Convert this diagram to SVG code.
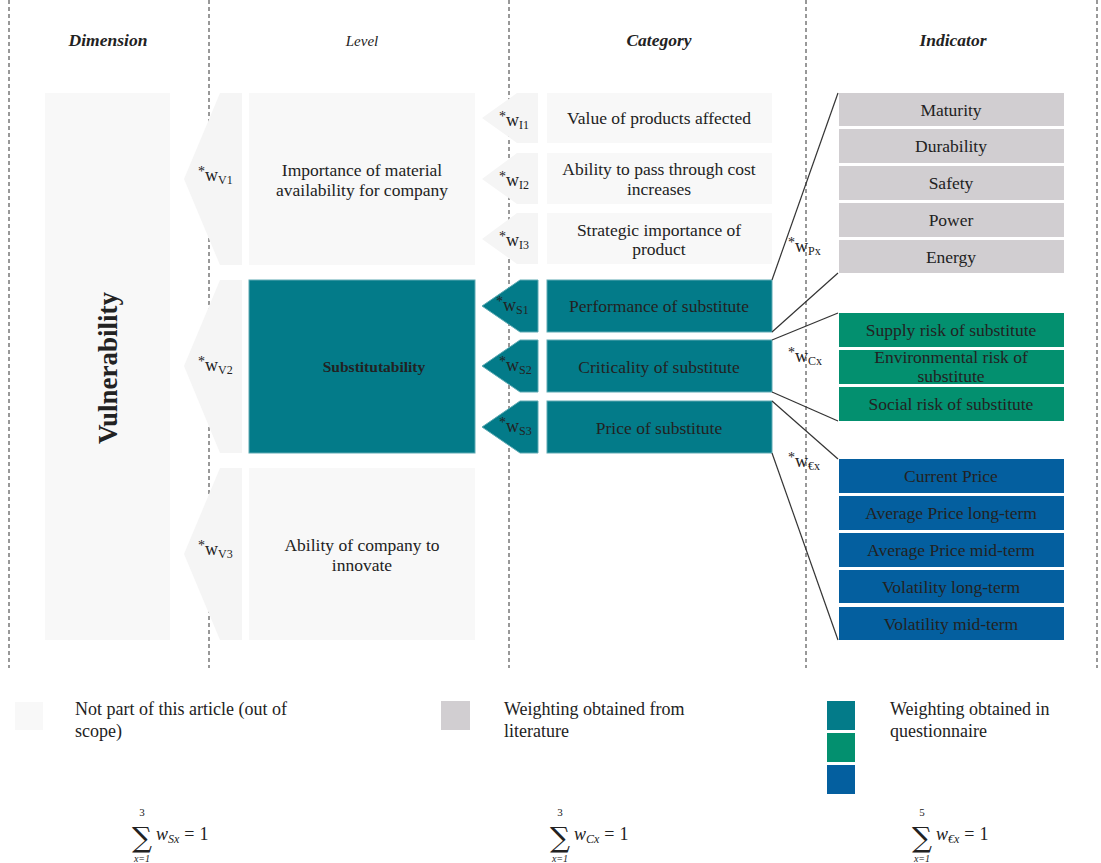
<svg xmlns="http://www.w3.org/2000/svg" width="1101" height="863" viewBox="0 0 1101 863">
<style>
text{font-family:"Liberation Serif",serif;fill:#222;}
.hd{font-size:17.5px;font-style:italic;font-weight:bold;text-anchor:middle;}
.t{font-size:17.5px;text-anchor:middle;}
.w{font-size:18px;}
.s{font-size:12px;}
.a{font-size:14px;}
.lg{font-size:18px;}
.dash{stroke:#333;stroke-width:1;stroke-dasharray:4,3;fill:none;}
.lt{fill:#f8f8f8;}
.ch{fill:#f5f5f5;}
.tl{fill:#037b89;stroke:#5eaab3;stroke-width:1;}
.gr{fill:#d1ced1;}
.gn{fill:#03906f;}
.bl{fill:#045f9f;}
.con{stroke:#333;stroke-width:1.2;fill:none;}
.sup{font-size:11px;text-anchor:middle;}
.sig{font-family:"DejaVu Serif",serif;font-size:28px;text-anchor:middle;}
.low{font-size:10px;font-style:italic;text-anchor:middle;}
.eq{font-size:18px;}
</style>
<rect width="1101" height="863" fill="#fff"/>
<g id="grid">
<line class="dash" x1="9" y1="0" x2="9" y2="668"/>
<line class="dash" x1="209" y1="0" x2="209" y2="668"/>
<line class="dash" x1="509" y1="0" x2="509" y2="668"/>
<line class="dash" x1="806" y1="0" x2="806" y2="668"/>
<line class="dash" x1="1097" y1="0" x2="1097" y2="668"/>
</g>
<g id="headers">
<text class="hd" x="108" y="46">Dimension</text>
<text class="hd" x="362" y="46" style="font-size:15px;font-weight:normal">Level</text>
<text class="hd" x="659" y="46">Category</text>
<text class="hd" x="953" y="46">Indicator</text>
</g>
<g id="vulnerability">
<rect class="lt" x="45" y="93" width="125" height="547"/>
<text x="108" y="368" transform="rotate(-90 108 368)" style="font-size:27px;font-weight:bold;text-anchor:middle;dominant-baseline:central">Vulnerability</text>
</g>
<g id="wV1">
<polygon class="ch" points="220,93 242,93 242,265 220,265 184,179"/>
<text class="w" x="198" y="181"><tspan class="a" dy="-5">*</tspan><tspan dy="5">w</tspan><tspan class="s" dy="3">V1</tspan></text>
</g>
<g id="wV2">
<polygon class="ch" points="220,280 242,280 242,453 220,453 184,366"/>
<text class="w" x="198" y="371"><tspan class="a" dy="-5">*</tspan><tspan dy="5">w</tspan><tspan class="s" dy="3">V2</tspan></text>
</g>
<g id="wV3">
<polygon class="ch" points="220,468 242,468 242,640 220,640 184,554"/>
<text class="w" x="198" y="555"><tspan class="a" dy="-5">*</tspan><tspan dy="5">w</tspan><tspan class="s" dy="3">V3</tspan></text>
</g>
<g id="level1">
<rect class="lt" x="249" y="93" width="226" height="172"/>
<text class="t" x="362" y="176">Importance of material</text>
<text class="t" x="362" y="196">availability for company</text>
</g>
<g id="level2">
<rect class="tl" x="249" y="280" width="226" height="173"/>
<text x="374" y="372" style="font-size:15.5px;font-weight:bold;text-anchor:middle">Substitutability</text>
</g>
<g id="level3">
<rect class="lt" x="249" y="468" width="226" height="172"/>
<text class="t" x="362" y="551">Ability of company to</text>
<text class="t" x="362" y="571">innovate</text>
</g>
<g id="wI1">
<polygon class="ch" points="517,93 538,93 538,143 517,143 482,118"/>
<text class="w" x="499" y="126"><tspan class="a" dy="-5">*</tspan><tspan dy="5">w</tspan><tspan class="s" dy="3">I1</tspan></text>
</g>
<g id="wI2">
<polygon class="ch" points="517,153 538,153 538,204 517,204 482,179"/>
<text class="w" x="499" y="186"><tspan class="a" dy="-5">*</tspan><tspan dy="5">w</tspan><tspan class="s" dy="3">I2</tspan></text>
</g>
<g id="wI3">
<polygon class="ch" points="517,213 538,213 538,264 517,264 482,239"/>
<text class="w" x="499" y="246"><tspan class="a" dy="-5">*</tspan><tspan dy="5">w</tspan><tspan class="s" dy="3">I3</tspan></text>
</g>
<g id="cat1">
<rect class="lt" x="547" y="93" width="225" height="50"/>
<text class="t" x="659" y="124">Value of products affected</text>
</g>
<g id="cat2">
<rect class="lt" x="547" y="153" width="225" height="51"/>
<text class="t" x="659" y="175">Ability to pass through cost</text>
<text class="t" x="659" y="195">increases</text>
</g>
<g id="cat3">
<rect class="lt" x="547" y="213" width="225" height="51"/>
<text class="t" x="659" y="236">Strategic importance of</text>
<text class="t" x="659" y="255">product</text>
</g>
<g id="wS1">
<polygon class="tl" points="520,280 538,280 538,332 520,332 482,306"/>
<text class="w" x="496" y="311"><tspan class="a" dy="-5">*</tspan><tspan dy="5">w</tspan><tspan class="s" dy="3">S1</tspan></text>
</g>
<g id="wS2">
<polygon class="tl" points="520,340 538,340 538,392 520,392 482,366"/>
<text class="w" x="499" y="371"><tspan class="a" dy="-5">*</tspan><tspan dy="5">w</tspan><tspan class="s" dy="3">S2</tspan></text>
</g>
<g id="wS3">
<polygon class="tl" points="520,401 538,401 538,453 520,453 482,427"/>
<text class="w" x="499" y="432"><tspan class="a" dy="-5">*</tspan><tspan dy="5">w</tspan><tspan class="s" dy="3">S3</tspan></text>
</g>
<g id="catS1">
<rect class="tl" x="547" y="280" width="225" height="52"/>
<text class="t" x="659" y="312">Performance of substitute</text>
</g>
<g id="catS2">
<rect class="tl" x="547" y="340" width="225" height="52"/>
<text class="t" x="659" y="373">Criticality of substitute</text>
</g>
<g id="catS3">
<rect class="tl" x="547" y="401" width="225" height="52"/>
<text class="t" x="659" y="434">Price of substitute</text>
</g>
<g id="connectors">
<line class="con" x1="772" y1="280" x2="838" y2="93"/>
<line class="con" x1="772" y1="332" x2="838" y2="273"/>
<line class="con" x1="772" y1="340" x2="838" y2="313"/>
<line class="con" x1="772" y1="392" x2="838" y2="421"/>
<line class="con" x1="772" y1="401" x2="838" y2="459"/>
<line class="con" x1="772" y1="453" x2="838" y2="640"/>
<text class="w" x="788" y="252"><tspan class="a" dy="-5">*</tspan><tspan dy="5">w</tspan><tspan class="s" dy="3">Px</tspan></text>
<text class="w" x="788" y="362"><tspan class="a" dy="-5">*</tspan><tspan dy="5">w</tspan><tspan class="s" dy="3">Cx</tspan></text>
<text class="w" x="788" y="467"><tspan class="a" dy="-5">*</tspan><tspan dy="5">w</tspan><tspan class="s" dy="3">€x</tspan></text>
</g>
<g id="ind-maturity"><rect class="gr" x="839" y="93" width="225" height="33"/><text class="t" x="951" y="116">Maturity</text></g>
<g id="ind-durability"><rect class="gr" x="839" y="129" width="225" height="34"/><text class="t" x="951" y="152">Durability</text></g>
<g id="ind-safety"><rect class="gr" x="839" y="166" width="225" height="34"/><text class="t" x="951" y="189">Safety</text></g>
<g id="ind-power"><rect class="gr" x="839" y="203" width="225" height="34"/><text class="t" x="951" y="226">Power</text></g>
<g id="ind-energy"><rect class="gr" x="839" y="240" width="225" height="33"/><text class="t" x="951" y="263">Energy</text></g>
<g id="ind-supply"><rect class="gn" x="839" y="313" width="225" height="34"/><text class="t" x="951" y="336">Supply risk of substitute</text></g>
<g id="ind-env"><rect class="gn" x="839" y="350" width="225" height="34"/><text class="t" x="951" y="363">Environmental risk of</text><text class="t" x="951" y="382">substitute</text></g>
<g id="ind-social"><rect class="gn" x="839" y="387" width="225" height="34"/><text class="t" x="951" y="410">Social risk of substitute</text></g>
<g id="ind-current"><rect class="bl" x="839" y="459" width="225" height="34"/><text class="t" x="951" y="482">Current Price</text></g>
<g id="ind-avglong"><rect class="bl" x="839" y="496" width="225" height="34"/><text class="t" x="951" y="519">Average Price long-term</text></g>
<g id="ind-avgmid"><rect class="bl" x="839" y="533" width="225" height="34"/><text class="t" x="951" y="556">Average Price mid-term</text></g>
<g id="ind-vollong"><rect class="bl" x="839" y="570" width="225" height="33"/><text class="t" x="951" y="593">Volatility long-term</text></g>
<g id="ind-volmid"><rect class="bl" x="839" y="607" width="225" height="33"/><text class="t" x="951" y="630">Volatility mid-term</text></g>
<g id="legend">
<rect class="lt" x="15" y="702" width="28" height="28"/>
<text class="lg" x="75" y="715">Not part of this article (out of</text>
<text class="lg" x="75" y="737">scope)</text>
<rect class="gr" x="441" y="701" width="29" height="29"/>
<text class="lg" x="504" y="715">Weighting obtained from</text>
<text class="lg" x="504" y="737">literature</text>
<rect x="827" y="701" width="28" height="29" fill="#037b89"/>
<rect x="827" y="733" width="28" height="29" fill="#03906f"/>
<rect x="827" y="765" width="28" height="29" fill="#045f9f"/>
<text class="lg" x="890" y="715">Weighting obtained in</text>
<text class="lg" x="890" y="737">questionnaire</text>
</g>
<g id="sums">
<g id="sum1">
<text class="sup" x="142" y="816">3</text>
<text class="sig" x="142" y="847">∑</text>
<text class="low" x="142" y="862">x=1</text>
<text class="eq" x="156" y="840"><tspan font-style="italic">w</tspan><tspan font-style="italic" font-size="12" dy="3">Sx</tspan><tspan dy="-3" dx="5">=</tspan><tspan dx="5">1</tspan></text>
</g>
<g id="sum2">
<text class="sup" x="560" y="816">3</text>
<text class="sig" x="560" y="847">∑</text>
<text class="low" x="560" y="862">x=1</text>
<text class="eq" x="574" y="840"><tspan font-style="italic">w</tspan><tspan font-style="italic" font-size="12" dy="3">Cx</tspan><tspan dy="-3" dx="5">=</tspan><tspan dx="5">1</tspan></text>
</g>
<g id="sum3">
<text class="sup" x="922" y="816">5</text>
<text class="sig" x="922" y="847">∑</text>
<text class="low" x="922" y="862">x=1</text>
<text class="eq" x="936" y="840"><tspan font-style="italic">w</tspan><tspan font-style="italic" font-size="12" dy="3">€x</tspan><tspan dy="-3" dx="5">=</tspan><tspan dx="5">1</tspan></text>
</g>
</g>
</svg>
